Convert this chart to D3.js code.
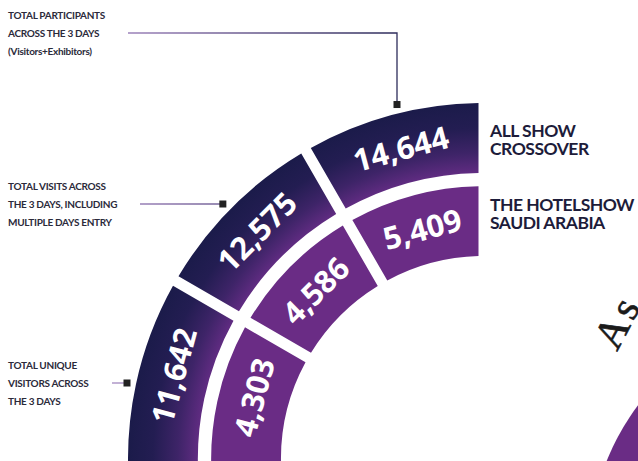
<!DOCTYPE html>
<html>
<head>
  <title>Show participation rings</title>
  <script src="https://d3js.org/d3.v7.min.js"></script>
  <style>
    body { margin: 0; background: #fff; }
    svg { display: block; }
    .metric { font-family: Lato, sans-serif; font-weight: 700; font-size: 10px; fill: #2b2a3a; letter-spacing: -0.3px; }
    .ring-label { font-family: Lato, sans-serif; font-weight: 700; font-size: 17.5px; fill: #1d1c3a; letter-spacing: -0.5px; }
    .value { font-family: "Open Sans", sans-serif; font-weight: 700; font-size: 31px; fill: #fff; text-anchor: middle; }
  </style>
</head>
<body>
  <div id="chart"></div>
  <script>
    // rings, outer first
    const rings = ["ALL SHOW CROSSOVER", "THE HOTELSHOW SAUDI ARABIA"];
    const ringLines = [["ALL SHOW", "CROSSOVER"], ["THE HOTELSHOW", "SAUDI ARABIA"]];
    // segments go from the left (9 o'clock) to the top (12 o'clock)
    const metrics = ["unique", "visits", "participants"];
    const crossoverValues = [11642, 12575, 14644];
    const hotelshowValues = [4303, 4586, 5409];
    const metricLines = [
      ["TOTAL UNIQUE", "VISITORS ACROSS", "THE 3 DAYS"],
      ["TOTAL VISITS ACROSS", "THE 3 DAYS, INCLUDING", "MULTIPLE DAYS ENTRY"],
      ["TOTAL PARTICIPANTS", "ACROSS THE 3 DAYS", "(Visitors+Exhibitors)"]
    ];

    const width = 638, height = 461;
    const cx = 484, cy = 459;

    const svg = d3.select("#chart").append("svg")
      .attr("width", width)
      .attr("height", height);

    const defs = svg.append("defs");

    // gradient lives in the ring group's own coordinates (origin = ring centre)
    const outerGrad = defs.append("radialGradient")
      .attr("id", "outerGrad")
      .attr("gradientUnits", "userSpaceOnUse")
      .attr("cx", 0).attr("cy", 0).attr("r", 356);
    outerGrad.append("stop").attr("offset", 0.80).attr("stop-color", "#622c83");
    outerGrad.append("stop").attr("offset", 0.86).attr("stop-color", "#3e2468");
    outerGrad.append("stop").attr("offset", 0.93).attr("stop-color", "#231d52");
    outerGrad.append("stop").attr("offset", 1).attr("stop-color", "#1b1b4a");

    // scales
    const angle = d3.scaleLinear().domain([0, metrics.length]).range([-Math.PI / 2, 0]);
    const radius = d3.scaleBand().domain(rings.slice().reverse()).range([203, 356]).paddingInner(0.16);

    const arc = d3.arc()
      .padAngle(0.11)
      .padRadius(100);

    const series = [
      { ring: rings[0], values: crossoverValues, fill: "url(#outerGrad)" },
      { ring: rings[1], values: hotelshowValues, fill: "#6a2c85" }
    ];

    // big circle peeking in at bottom right
    svg.append("circle")
      .attr("cx", 826).attr("cy", 548).attr("r", 236)
      .attr("fill", "#6a2c85");

    svg.append("text")
      .attr("transform", "translate(617,352) rotate(-62)")
      .attr("font-family", "Liberation Serif, serif")
      .attr("font-size", 42)
      .attr("letter-spacing", 4)
      .attr("stroke", "#1a1a1a")
      .attr("stroke-width", 0.6)
      .attr("fill", "#1a1a1a")
      .text("As");

    series.forEach(s => {
      const r0 = radius(s.ring), r1 = r0 + radius.bandwidth();
      const g = svg.append("g").attr("transform", `translate(${cx},${cy})`);

      g.selectAll("path")
        .data(s.values)
        .join("path")
          .attr("d", (d, i) => arc({
            innerRadius: r0,
            outerRadius: r1,
            startAngle: i === 0 ? angle(i) - 0.1 : angle(i),
            endAngle: angle(i + 1)
          }))
          .attr("fill", s.fill);

      const rm = (r0 + r1) / 2;
      g.selectAll("text")
        .data(s.values)
        .join("text")
          .attr("class", "value")
          .attr("transform", (d, i) => {
            const a = angle(i + 0.5);
            return `translate(${rm * Math.sin(a)},${-rm * Math.cos(a)}) rotate(${a * 180 / Math.PI})`;
          })
          .attr("dy", "0.36em")
          .text(d => d3.format(",")(d));
    });

    // ring labels on the right, first baseline measured down from the ring's outer edge
    const labelDrop = [34, 25];
    ringLines.forEach((lines, k) => {
      const top = cy - (radius(rings[k]) + radius.bandwidth());
      svg.append("g").selectAll("text")
        .data(lines)
        .join("text")
          .attr("class", "ring-label")
          .attr("x", 490)
          .attr("y", (d, j) => top + labelDrop[k] + j * 18)
          .text(d => d);
    });

    // metric labels with leader lines
    const markerR = 365;
    const leaders = [
      { y: 383, textEnd: 112 },
      { y: 204, textEnd: 140 },
      { y: 33, textEnd: 128, elbowX: 397 }
    ];

    const lineGrad = defs.append("linearGradient")
      .attr("id", "lineGrad")
      .attr("gradientUnits", "userSpaceOnUse")
      .attr("x1", 100).attr("x2", 400).attr("y1", 0).attr("y2", 0);
    lineGrad.append("stop").attr("offset", 0).attr("stop-color", "#a88cc4");
    lineGrad.append("stop").attr("offset", 1).attr("stop-color", "#2c2b5a");

    metricLines.forEach((lines, i) => {
      const L = leaders[i];
      svg.append("g").selectAll("text")
        .data(lines)
        .join("text")
          .attr("class", "metric")
          .attr("x", 8)
          .attr("y", (d, j) => L.y + (j - 1) * 18 + 4)
          .text(d => d);

      let mx, my;
      if (L.elbowX !== undefined) {
        mx = L.elbowX;
        my = cy - Math.sqrt(markerR * markerR - (cx - mx) * (cx - mx));
        svg.append("path")
          .attr("d", `M${L.textEnd},${L.y}H${mx}V${my}`)
          .attr("fill", "none")
          .attr("stroke", "url(#lineGrad)")
          .attr("stroke-width", 1.3);
      } else {
        my = L.y;
        mx = cx - Math.sqrt(markerR * markerR - (cy - my) * (cy - my));
        svg.append("path")
          .attr("d", `M${L.textEnd},${my}H${mx}`)
          .attr("fill", "none")
          .attr("stroke", "url(#lineGrad)")
          .attr("stroke-width", 1.3);
      }
      svg.append("rect")
        .attr("x", mx - 3.5).attr("y", my - 3.5)
        .attr("width", 7).attr("height", 7)
        .attr("fill", "#222");
    });
  </script>
</body>
</html>
